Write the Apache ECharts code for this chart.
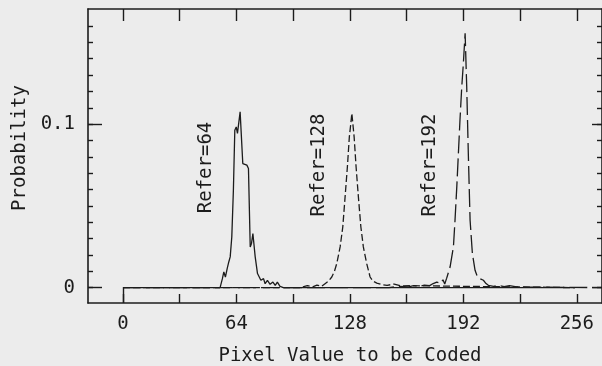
<!DOCTYPE html>
<html>
<head>
<meta charset="utf-8">
<script src="https://cdn.jsdelivr.net/npm/echarts@6.0.0/dist/echarts.min.js"></script>
<style>
  html, body { margin: 0; padding: 0; background: #ececec; }
  #chartRoot { width: 602px; height: 366px; }
</style>
</head>
<body>
<div id="chartRoot"></div>
<script>
// pixel value -> probability, one curve per reference value
const refer64X = [0, 54.8, 56.1, 56.9, 57.8, 58.8, 59.7, 60.5, 61.4, 62.3, 63.1, 63.9, 64.6, 65.4, 66.1, 66.7, 67.6, 69.9, 70.8, 71.8, 72.5, 73.3, 74.6, 75.9, 76.8, 77.8, 79.3, 80.2, 81.5, 83, 84.6, 85.9, 87.1, 88.6, 90.5, 255];
const refer64Y = [0, 0, 0.0055, 0.0096, 0.0065, 0.0116, 0.0157, 0.0188, 0.031, 0.0596, 0.0963, 0.0983, 0.0943, 0.1014, 0.1075, 0.1066, 0.0759, 0.0749, 0.0729, 0.0249, 0.0269, 0.0331, 0.0188, 0.0086, 0.0096, 0.0045, 0.0055, 0.0024, 0.0045, 0.002, 0.0034, 0.0014, 0.0034, 0.0008, 0, 0];

const refer128X = [0, 100, 104, 107, 109.4, 112, 114, 116, 117.8, 119.3, 120.6, 122.5, 124, 125.3, 126.6, 127.7, 128.5, 129.1, 129.7, 130.4, 131.5, 132.8, 134.2, 135.6, 137.5, 139.4, 141, 143.2, 146, 149, 153, 157, 162, 255];
const refer128Y = [0, 0, 0.0012, 0.0005, 0.0015, 0.0008, 0.0024, 0.004, 0.0065, 0.01, 0.0147, 0.0249, 0.0371, 0.0555, 0.0739, 0.0922, 0.1, 0.1066, 0.1, 0.0922, 0.0739, 0.0555, 0.0371, 0.0249, 0.0147, 0.0065, 0.004, 0.0028, 0.0018, 0.0014, 0.0022, 0.001, 0.0012, 0];

const refer192X = [0, 150, 156, 161, 164, 167, 170, 173, 175, 177, 179, 180.5, 181.5, 182.6, 184.5, 186.4, 187.3, 188.3, 189.2, 190.1, 191.1, 192, 193, 193.9, 194.8, 195.8, 197.1, 198.6, 200, 201.4, 203.3, 204.8, 206.1, 209, 212, 215, 218, 222, 270];
const refer192Y = [0, 0, 0.0008, 0.0004, 0.0012, 0.0006, 0.0015, 0.0012, 0.0025, 0.0034, 0.0026, 0.0048, 0.0022, 0.0058, 0.0126, 0.0249, 0.0412, 0.0616, 0.082, 0.1025, 0.1228, 0.137, 0.1555, 0.1228, 0.082, 0.0412, 0.0208, 0.0106, 0.0065, 0.0055, 0.0045, 0.0025, 0.0014, 0.0008, 0.0014, 0.0006, 0.0012, 0.0004, 0];

const referNames = ["Refer=64", "Refer=128", "Refer=192"];

const xTicks = [0, 32, 64, 96, 128, 160, 192, 224, 256];
const xLabels = [0, 64, 128, 192, 256];
const yTicks = [0, 0.01, 0.02, 0.03, 0.04, 0.05, 0.06, 0.07, 0.08, 0.09, 0.1, 0.11, 0.12, 0.13, 0.14, 0.15, 0.16];
const yLabels = [0, 0.1];

// where the rotated captions start (data coords)
const captionAt = [[47, 0.0455], [110.9, 0.0435], [173, 0.0435]];

const ink = "#1c1c1c";
const font = "DejaVu Sans Mono";

const pairs = (xs, ys) => xs.map((x, i) => [x, ys[i]]);

const renderChart = () => {
  const chartDom = document.getElementById("chartRoot");
  const myChart = echarts.init(chartDom, null, { renderer: "canvas" });

  const xBase = { type: "value", min: -19.7, max: 270.2, splitLine: { show: false } };
  const yBase = { type: "value", min: -0.0094, max: 0.1704, splitLine: { show: false } };
  const line = { show: true, onZero: false, lineStyle: { color: ink, width: 1.6 } };
  const noLine = { show: false, onZero: false };
  const tick = (length, values) => ({
    show: true,
    inside: true,
    length,
    customValues: values,
    lineStyle: { color: ink, width: 1.4 },
  });

  const caption = (i) => ({
    symbol: "circle",
    symbolSize: 1,
    silent: true,
    itemStyle: { color: "rgba(0,0,0,0)" },
    data: [{ coord: captionAt[i], value: referNames[i] }],
    label: {
      show: true,
      formatter: referNames[i],
      position: "inside",
      rotate: 90,
      align: "left",
      verticalAlign: "middle",
      color: ink,
      fontFamily: font,
      fontSize: 19,
    },
  });

  const curve = (data, dash, i) => ({
    type: "line",
    data,
    symbol: "none",
    animation: false,
    lineStyle: { color: ink, width: 1.3, type: dash },
    markPoint: caption(i),
  });

  const option = {
    backgroundColor: "#ececec",
    animation: false,
    grid: { left: 88, right: 0, top: 9, bottom: 63, containLabel: false, outerBoundsMode: "none" },
    xAxis: [
      {
        ...xBase,
        position: "bottom",
        axisLine: line,
        axisTick: tick(9, xTicks),
        axisLabel: { customValues: xLabels, margin: 12, color: ink, fontFamily: font, fontSize: 19 },
        name: "Pixel Value to be Coded",
        nameLocation: "middle",
        nameGap: 44,
        nameTextStyle: { color: ink, fontFamily: font, fontSize: 19, padding: [0, 0, 0, 10] },
      },
      {
        ...xBase,
        position: "top",
        axisLine: line,
        axisTick: tick(12, xTicks),
        axisLabel: { show: false },
      },
      {
        ...xBase,
        position: "bottom",
        axisLine: noLine,
        axisTick: tick(15, [0]),
        axisLabel: { show: false },
      },
    ],
    yAxis: [
      {
        ...yBase,
        position: "left",
        axisLine: line,
        axisTick: tick(5, yTicks),
        axisLabel: { customValues: yLabels, margin: 13, color: ink, fontFamily: font, fontSize: 19 },
        name: "Probability",
        nameLocation: "middle",
        nameGap: 55,
        nameTextStyle: { color: ink, fontFamily: font, fontSize: 19, padding: [0, 0, 0, 16] },
      },
      {
        ...yBase,
        position: "left",
        axisLine: noLine,
        axisTick: tick(14, yLabels),
        axisLabel: { show: false },
      },
      {
        ...yBase,
        position: "right",
        axisLine: line,
        axisTick: tick(5, yTicks),
        axisLabel: { show: false },
      },
      {
        ...yBase,
        position: "right",
        axisLine: noLine,
        axisTick: tick(10, yLabels),
        axisLabel: { show: false },
      },
    ],
    series: [
      curve(pairs(refer64X, refer64Y), "solid", 0),
      curve(pairs(refer128X, refer128Y), [7, 3], 1),
      curve(pairs(refer192X, refer192Y), [18, 5], 2),
    ],
  };

  myChart.setOption(option);
};

renderChart();
</script>
</body>
</html>
